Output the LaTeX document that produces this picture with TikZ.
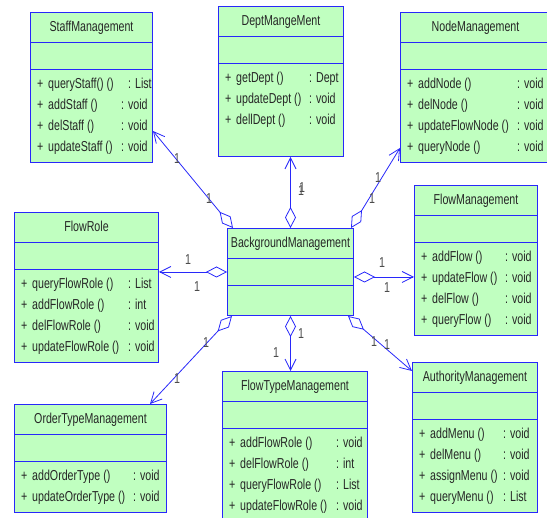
\documentclass[tikz,border=0pt]{standalone}
\usepackage{fontspec}
\setmainfont[FakeStretch=0.74]{Liberation Sans}
\usetikzlibrary{arrows.meta,calc}
\definecolor{umlblue}{RGB}{40,40,250}
\definecolor{umlfill}{RGB}{192,255,192}
\tikzset{
  cls/.style={draw=umlblue, line width=1pt, fill=umlfill, rectangle, inner sep=0pt, anchor=north west},
  sepline/.style={draw=umlblue, line width=0.9pt},
  txt/.style={inner sep=0pt, anchor=base west, font=\fontsize{14.4}{15}\selectfont, text=black!85},
  ttl/.style={inner sep=0pt, anchor=base, font=\fontsize{14.4}{15}\selectfont, text=black!85},
  lbl/.style={inner sep=0pt, font=\fontsize{14.4}{15}\selectfont, text=black!70},
  assoc/.style={draw=umlblue, line width=0.8pt,
    {Diamond[open,length=21pt,width=11pt]}-{Straight Barb[length=11pt,width=11pt]}},
}
\newcommand\umlclass[6]{%
  \node[cls, minimum width=#4pt, minimum height=#5pt] (#1) at (#2,#3) {};
  \node[ttl] (#1-t) at ($(#1.north)+(0,19.5)$) {#6};
  \draw[sepline] ($(#1.north west)+(0,30)$) -- ($(#1.north east)+(0,30)$);
  \draw[sepline] ($(#1.north west)+(0,57)$) -- ($(#1.north east)+(0,57)$);
}
% #1 class, #2 row id, #3 baseline dy, #4 method, #5 type dx, #6 type
\newcommand\umlrow[6]{%
  \node[txt] (#1-p#2) at ($(#1.north west)+(7,#3)$) {+};
  \node[txt] (#1-m#2) at ($(#1.north west)+(18,#3)$) {#4};
  \node[txt] (#1-r#2) at ($(#1.north west)+(#5,#3)$) {: #6};
}
\begin{document}
\begin{tikzpicture}[x=1pt,y=-1pt]
\useasboundingbox (0,0) rectangle (547,518);
\fill[white] (0,0) rectangle (547,518);

\umlclass{staff}{30}{12}{122}{150}{StaffManagement}
\umlrow{staff}{1}{76.5}{queryStaff() ()}{98}{List}
\umlrow{staff}{2}{97.5}{addStaff ()}{91}{void}
\umlrow{staff}{3}{118.5}{delStaff ()}{91}{void}
\umlrow{staff}{4}{139.5}{updateStaff ()}{91}{void}

\umlclass{dept}{218}{6}{125}{150}{DeptMangeMent}
\umlrow{dept}{1}{76.5}{getDept ()}{91}{Dept}
\umlrow{dept}{2}{97.5}{updateDept ()}{91}{void}
\umlrow{dept}{3}{118.5}{dellDept ()}{91}{void}

\umlclass{node}{400}{12}{150}{150}{NodeManagement}
\umlrow{node}{1}{76.5}{addNode ()}{117}{void}
\umlrow{node}{2}{97.5}{delNode ()}{117}{void}
\umlrow{node}{3}{118.5}{updateFlowNode ()}{117}{void}
\umlrow{node}{4}{139.5}{queryNode ()}{117}{void}

\umlclass{frole}{14}{212}{144}{150}{FlowRole}
\umlrow{frole}{1}{76.5}{queryFlowRole ()}{114}{List}
\umlrow{frole}{2}{97.5}{addFlowRole ()}{114}{int}
\umlrow{frole}{3}{118.5}{delFlowRole ()}{114}{void}
\umlrow{frole}{4}{139.5}{updateFlowRole ()}{114}{void}

\umlclass{flow}{414}{185}{123}{150}{FlowManagement}
\umlrow{flow}{1}{76.5}{addFlow ()}{91}{void}
\umlrow{flow}{2}{97.5}{updateFlow ()}{91}{void}
\umlrow{flow}{3}{118.5}{delFlow ()}{91}{void}
\umlrow{flow}{4}{139.5}{queryFlow ()}{91}{void}

\umlclass{bg}{227}{228}{126}{87}{BackgroundManagement}

\umlclass{order}{14}{404}{152}{108}{OrderTypeManagement}
\umlrow{order}{1}{76.5}{addOrderType ()}{119}{void}
\umlrow{order}{2}{97.5}{updateOrderType ()}{119}{void}

\umlclass{ftype}{222}{371}{145}{150}{FlowTypeManagement}
\umlrow{ftype}{1}{76.5}{addFlowRole ()}{114}{void}
\umlrow{ftype}{2}{97.5}{delFlowRole ()}{114}{int}
\umlrow{ftype}{3}{118.5}{queryFlowRole ()}{114}{List}
\umlrow{ftype}{4}{139.5}{updateFlowRole ()}{114}{void}

\umlclass{auth}{412}{362}{125}{150}{AuthorityManagement}
\umlrow{auth}{1}{76.5}{addMenu ()}{91}{void}
\umlrow{auth}{2}{97.5}{delMenu ()}{91}{void}
\umlrow{auth}{3}{118.5}{assignMenu ()}{91}{void}
\umlrow{auth}{4}{139.5}{queryMenu ()}{91}{List}

% connectors
\coordinate (fmS) at ($(bg.east)+(0,5)$);
\draw[assoc] ($(bg.north west)+(6,0)$) -- ($(staff.north east)+(0,119)$);
\draw[assoc] (bg.north) -- (bg.north |- dept.south);
\draw[assoc] ($(bg.north east)+(-3,0)$) -- ($(node.north west)+(0,136)$);
\draw[assoc] (bg.west) -- (bg.west -| frole.east);
\draw[assoc] (fmS) -- (fmS -| flow.west);
\draw[assoc] ($(bg.south west)+(5,0)$) -- ($(order.north west)+(136,0)$);
\draw[assoc] (bg.south) -- (bg.south |- ftype.north);
\draw[assoc] ($(bg.south east)+(-6,0)$) -- ($(auth.north west)+(0,9)$);

% multiplicities
\node[lbl] (l1a) at (177,159) {1};
\node[lbl] (l1b) at (209,199) {1};
\node[lbl] (l2a) at (301,191) {1};
\node[lbl] (l2b) at (302,188) {1};
\node[lbl] (l3a) at (378,178) {1};
\node[lbl] (l3b) at (372,199) {1};
\node[lbl] (l4a) at (188,260) {1};
\node[lbl] (l4b) at (197,287) {1};
\node[lbl] (l5a) at (382,263) {1};
\node[lbl] (l5b) at (387,288) {1};
\node[lbl] (l6a) at (206,343) {1};
\node[lbl] (l6b) at (177,379) {1};
\node[lbl] (l7a) at (301,334) {1};
\node[lbl] (l7b) at (276,353) {1};
\node[lbl] (l8a) at (374,342) {1};
\node[lbl] (l8b) at (387,345) {1};
\end{tikzpicture}
\end{document}
